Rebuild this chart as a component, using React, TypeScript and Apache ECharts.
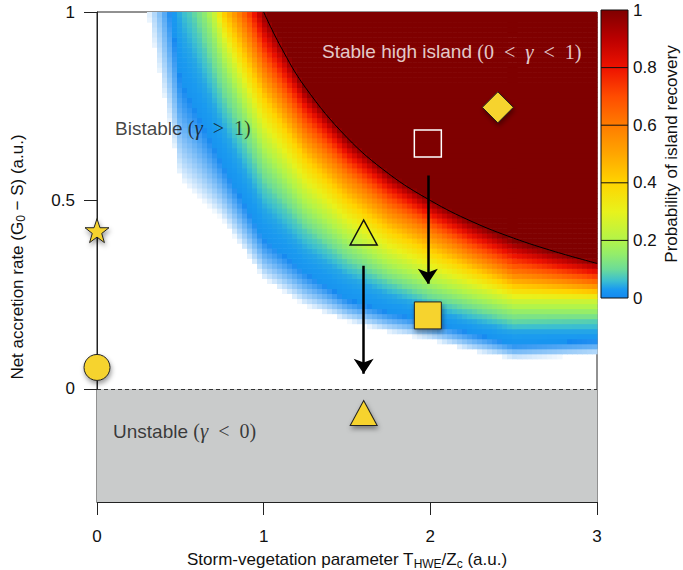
import React, { useEffect, useRef } from 'react';
import * as echarts from 'echarts';

// ---------- data ----------
// Columns (x) at which the probability contours were read
const contourX = [0.25, 0.5, 0.75, 1.0, 1.25, 1.5, 1.75, 2.0, 2.25, 2.5, 2.75, 3.0];
// Probability levels of the contours
const contourLevels = [0, 0.02, 0.04, 0.08, 0.15, 0.25, 0.4, 0.6, 0.8, 1.0];
// y position of each probability level along the columns
const yP000 = [1.10, 0.55, 0.45, 0.29, 0.22, 0.18, 0.15, 0.13, 0.10, 0.08, 0.085, 0.09];
const yP002 = [1.60, 0.82, 0.60, 0.40, 0.31, 0.24, 0.205, 0.18, 0.15, 0.12, 0.125, 0.13];
const yP004 = [1.90, 0.96, 0.70, 0.48, 0.37, 0.30, 0.25, 0.215, 0.18, 0.155, 0.155, 0.155];
const yP008 = [2.10, 1.08, 0.77, 0.54, 0.42, 0.335, 0.28, 0.235, 0.205, 0.175, 0.178, 0.18];
const yP015 = [2.40, 1.20, 0.86, 0.61, 0.47, 0.38, 0.315, 0.27, 0.235, 0.205, 0.205, 0.205];
const yP025 = [2.60, 1.32, 0.93, 0.68, 0.53, 0.43, 0.36, 0.31, 0.27, 0.235, 0.235, 0.235];
const yP040 = [3.00, 1.50, 1.00, 0.77, 0.61, 0.50, 0.42, 0.365, 0.315, 0.27, 0.262, 0.255];
const yP060 = [3.40, 1.70, 1.10, 0.85, 0.68, 0.57, 0.48, 0.42, 0.36, 0.31, 0.295, 0.28];
const yP080 = [3.70, 1.85, 1.22, 0.93, 0.75, 0.625, 0.535, 0.465, 0.405, 0.355, 0.33, 0.31];
const yP100 = [4.00, 2.00, 1.33, 1.01, 0.80, 0.67, 0.575, 0.505, 0.445, 0.395, 0.365, 0.34];
const contourY = [yP000, yP002, yP004, yP008, yP015, yP025, yP040, yP060, yP080, yP100];

// gamma = 1 boundary curve
const boundaryX = [1.0, 1.1, 1.25, 1.5, 1.75, 2.0, 2.25, 2.5, 2.75, 3.0];
const boundaryY = [1.0, 0.91, 0.80, 0.667, 0.571, 0.50, 0.444, 0.40, 0.364, 0.333];

// markers
const starPt = [0, 0.42];
const circlePt = [0, 0.057];
const openTriPt = [1.6, 0.415];
const fillTriPt = [1.6, -0.064];
const openSqPt = [1.985, 0.651];
const fillSqPt = [1.985, 0.195];
const diamondPt = [2.405, 0.747];
// arrows
const arrowA = [[1.6, 0.327], [1.6, 0.04]];
const arrowB = [[1.985, 0.566], [1.985, 0.279]];

// annotations
const SP = '\u2002';
const annotationPts = [[0.108, 0.691], [1.35, 0.894], [0.096, -0.112]];
const annotationTexts = [
  `Bistable {m|(}{g|γ}{m|${SP}>${SP}1)}`,
  `Stable high island {m|(0${SP}<${SP}}{g|γ}{m|${SP}<${SP}1)}`,
  `Unstable {m|(}{g|γ}{m|${SP}<${SP}0)}`,
];

// ticks
const xTicks = [0, 1, 2, 3];
const yTicks = [0, 0.5, 1];
const cbTicks = [0, 0.2, 0.4, 0.6, 0.8, 1];
const cbLabels = ['0', '0.2', '0.4', '0.6', '0.8', '1'];

// ---------- styles ----------
const FONT = '"Liberation Sans", Arial, Helvetica, sans-serif';
const SERIF = '"Liberation Serif", "Times New Roman", serif';
const YELLOW = '#f6d32d';
const COLOR_STOPS: [number, string][] = [
  [0, '#1488f0'],
  [0.03, '#1a9af0'],
  [0.06, '#3cbfd0'],
  [0.1, '#6cdc98'],
  [0.15, '#92ec6c'],
  [0.2, '#b2f44a'],
  [0.3, '#e8f21c'],
  [0.4, '#ffd400'],
  [0.5, '#ffa600'],
  [0.6, '#ff7c00'],
  [0.7, '#ff4c00'],
  [0.8, '#ee1200'],
  [0.9, '#bb0000'],
  [1, '#7f0000'],
];
const DX = 0.03;
const DY = 1 / 75;

function hex(c: string) {
  return [parseInt(c.slice(1, 3), 16), parseInt(c.slice(3, 5), 16), parseInt(c.slice(5, 7), 16)];
}
function mix(a: number[], b: number[], t: number) {
  const r = a.map((v, i) => Math.round(v + (b[i] - v) * t));
  return `rgb(${r[0]},${r[1]},${r[2]})`;
}
function colorOf(p: number) {
  if (p < 0.02) {
    const t = Math.pow(p / 0.02, 0.8);
    return mix([255, 255, 255], hex(COLOR_STOPS[0][1]), t);
  }
  for (let i = 0; i < COLOR_STOPS.length - 1; i++) {
    const [o1, c1] = COLOR_STOPS[i];
    const [o2, c2] = COLOR_STOPS[i + 1];
    if (p <= o2) return mix(hex(c1), hex(c2), (p - o1) / (o2 - o1));
  }
  return COLOR_STOPS[COLOR_STOPS.length - 1][1];
}

function probAt(x: number, y: number) {
  const xc = Math.min(Math.max(x, contourX[0]), contourX[contourX.length - 1]);
  let j = 0;
  while (j < contourX.length - 2 && xc > contourX[j + 1]) j++;
  const t = (xc - contourX[j]) / (contourX[j + 1] - contourX[j]);
  const ys = contourY.map((row) => row[j] + (row[j + 1] - row[j]) * t);
  if (y <= ys[0]) return 0;
  if (y >= ys[ys.length - 1]) return 1;
  for (let k = 0; k < ys.length - 1; k++) {
    if (y < ys[k + 1]) {
      const u = (y - ys[k]) / (ys[k + 1] - ys[k]);
      return contourLevels[k] + (contourLevels[k + 1] - contourLevels[k]) * u;
    }
  }
  return 1;
}

function buildCells() {
  const cells: number[][] = [];
  for (let i = 0; i < Math.round(3 / DX); i++) {
    for (let k = 0; k < Math.round(1 / DY); k++) {
      const x = (i + 0.5) * DX;
      const y = (k + 0.5) * DY;
      const p = probAt(x, y);
      if (p > 0.0005) cells.push([x, y, p]);
    }
  }
  return cells;
}

const STAR = 'path://M50,2 L61.8,36.2 L97.6,36.2 L68.7,57.6 L79.4,92 L50,71.3 L20.6,92 L31.3,57.6 L2.4,36.2 L38.2,36.2 Z';

export default function App() {
  const ref = useRef<HTMLDivElement>(null);
  useEffect(() => {
    if (!ref.current) return;
    const chart = echarts.init(ref.current, undefined, { renderer: 'svg' });
    const cells = buildCells();
    const shadow = { shadowBlur: 5, shadowColor: 'rgba(0,0,0,0.4)', shadowOffsetX: 1, shadowOffsetY: 3 };
    const filled = { color: YELLOW, opacity: 1, borderColor: '#222', borderWidth: 1, ...shadow };
    const gLeft = 97, gTop = 12, gW = 500, gH = 490;
    const cbLeft = 601, cbTop = 10, cbW = 27, cbH = 288;
    const cbY = (v: number) => cbTop + cbH * (1 - v);
    const rich = {
      m: { fontFamily: SERIF, fontSize: 20 },
      g: { fontFamily: SERIF, fontSize: 21, fontStyle: 'italic' },
    };
    const subRich = {
      s: { fontSize: 12, fontFamily: FONT, verticalAlign: 'bottom', padding: [7, 0, 0, 0] },
    };

    chart.setOption({
      animation: false,
      backgroundColor: '#fff',
      textStyle: { fontFamily: FONT },
      grid: {
        left: gLeft, top: gTop, width: gW, height: gH,
        containLabel: false, outerBoundsMode: 'none',
        show: true, borderColor: '#222', borderWidth: 1, backgroundColor: 'transparent',
      },
      xAxis: {
        type: 'value', min: 0, max: 3, interval: 1,
        axisLine: { show: true, onZero: false, lineStyle: { color: '#222', width: 1 } },
        axisTick: { show: true, inside: false, length: 13, lineStyle: { color: '#222', width: 1 }, customValues: xTicks },
        axisLabel: { color: '#111', fontSize: 17, margin: 26, fontFamily: FONT, customValues: xTicks },
        splitLine: { show: false },
        name: 'Storm-vegetation parameter T{s|HWE}/Z{s|c} (a.u.)',
        nameLocation: 'middle', nameGap: 47,
        nameTextStyle: { fontSize: 17, color: '#111', fontFamily: FONT, lineHeight: 20, rich: subRich },
      },
      yAxis: {
        type: 'value', min: -0.3, max: 1,
        axisLine: { show: true, onZero: false, lineStyle: { color: '#222', width: 1 } },
        axisTick: { show: true, inside: false, length: 13, lineStyle: { color: '#222', width: 1 }, customValues: yTicks },
        axisLabel: { color: '#111', fontSize: 17, margin: 22, fontFamily: FONT, customValues: yTicks, formatter: (v: number) => String(v) },
        splitLine: { show: false },
        name: 'Net accretion rate (G{s|0} − S) (a.u.)',
        nameLocation: 'middle', nameGap: 70,
        nameTextStyle: { fontSize: 17, color: '#111', fontFamily: FONT, lineHeight: 20, rich: subRich },
      },
      series: [
        {
          type: 'custom',
          name: 'probability',
          data: cells,
          encode: { x: 0, y: 1 },
          clip: true,
          silent: true,
          z: 1,
          renderItem: (params: any, api: any) => {
            const x = api.value(0), y = api.value(1), p = api.value(2);
            const tl = api.coord([x - DX / 2, y + DY / 2]);
            const br = api.coord([x + DX / 2, y - DY / 2]);
            return {
              type: 'rect',
              shape: { x: tl[0], y: tl[1], width: br[0] - tl[0] + 0.6, height: br[1] - tl[1] + 0.6 },
              style: { fill: colorOf(p) },
            };
          },
        },
        {
          type: 'line',
          name: 'boundary',
          data: boundaryX.map((x, i) => [x, boundaryY[i]]),
          smooth: 0.4,
          showSymbol: false,
          symbol: 'none',
          lineStyle: { color: '#000', width: 1 },
          z: 3,
          silent: true,
          markArea: {
            silent: true,
            itemStyle: { color: '#c9cbcb', opacity: 1 },
            data: [[{ yAxis: -0.3 }, { yAxis: 0 }]],
          },
          markLine: {
            silent: true,
            symbol: 'none',
            label: { show: false },
            lineStyle: { color: '#333', width: 1, type: [4, 3] },
            data: [{ yAxis: 0 }],
          },
        },
        {
          type: 'lines',
          coordinateSystem: 'cartesian2d',
          z: 4,
          silent: true,
          symbol: ['none', 'arrow'],
          symbolSize: 15,
          lineStyle: { color: '#000', width: 2.5, opacity: 1 },
          data: [{ coords: arrowA }, { coords: arrowB }],
        },
        {
          type: 'scatter',
          z: 5,
          silent: true,
          itemStyle: { opacity: 1 },
          data: [
            { value: starPt, symbol: STAR, symbolSize: 24, itemStyle: filled },
            { value: circlePt, symbol: 'circle', symbolSize: 26, itemStyle: filled },
            { value: fillTriPt, symbol: 'triangle', symbolSize: [27, 25], itemStyle: filled },
            { value: fillSqPt, symbol: 'rect', symbolSize: 27, itemStyle: filled },
            { value: diamondPt, symbol: 'diamond', symbolSize: [31, 31], itemStyle: filled },
            { value: openTriPt, symbol: 'triangle', symbolSize: [27, 25], itemStyle: { color: 'rgba(0,0,0,0)', opacity: 1, borderColor: '#111', borderWidth: 1.5 } },
            { value: openSqPt, symbol: 'rect', symbolSize: 27, itemStyle: { color: 'rgba(0,0,0,0)', opacity: 1, borderColor: '#fff', borderWidth: 1.5 } },
          ],
        },
        {
          type: 'scatter',
          z: 6,
          silent: true,
          symbolSize: 0,
          data: annotationPts.map((p, i) => ({
            value: p,
            label: {
              show: true,
              position: 'right',
              distance: 0,
              formatter: annotationTexts[i],
              fontSize: 19,
              fontFamily: FONT,
              color: i === 1 ? '#fff' : '#111',
              rich: {
                m: { ...rich.m, color: i === 1 ? '#fff' : '#111' },
                g: { ...rich.g, color: i === 1 ? '#fff' : '#111' },
              },
            },
          })),
        },
      ],
      graphic: [
        {
          type: 'rect',
          shape: { x: cbLeft, y: cbTop, width: cbW, height: cbH },
          style: {
            fill: new echarts.graphic.LinearGradient(0, 1, 0, 0, COLOR_STOPS.map(([o, c]) => ({ offset: o, color: c }))),
            stroke: '#111',
            lineWidth: 1,
          },
          z: 10,
        },
        ...cbTicks.slice(1, -1).map((v) => ({
          type: 'line',
          shape: { x1: cbLeft, y1: cbY(v), x2: cbLeft + cbW, y2: cbY(v) },
          style: { stroke: '#111', lineWidth: 1 },
          z: 11,
        })),
        ...cbTicks.map((v, i) => ({
          type: 'text',
          x: cbLeft + cbW + 5,
          y: cbY(v),
          style: { text: cbLabels[i], fontSize: 17, fontFamily: FONT, fill: '#111', verticalAlign: 'middle', align: 'left' },
          z: 11,
        })),
        {
          type: 'text',
          x: 671,
          y: cbTop + cbH / 2,
          rotation: Math.PI / 2,
          style: { text: 'Probability of island recovery', fontSize: 17, fontFamily: FONT, fill: '#111', align: 'center', verticalAlign: 'middle' },
          z: 11,
        },
      ],
    });
    return () => chart.dispose();
  }, []);
  return <div ref={ref} style={{ position: 'absolute', left: 0, top: 0, width: 683, height: 570 }} />;
}
